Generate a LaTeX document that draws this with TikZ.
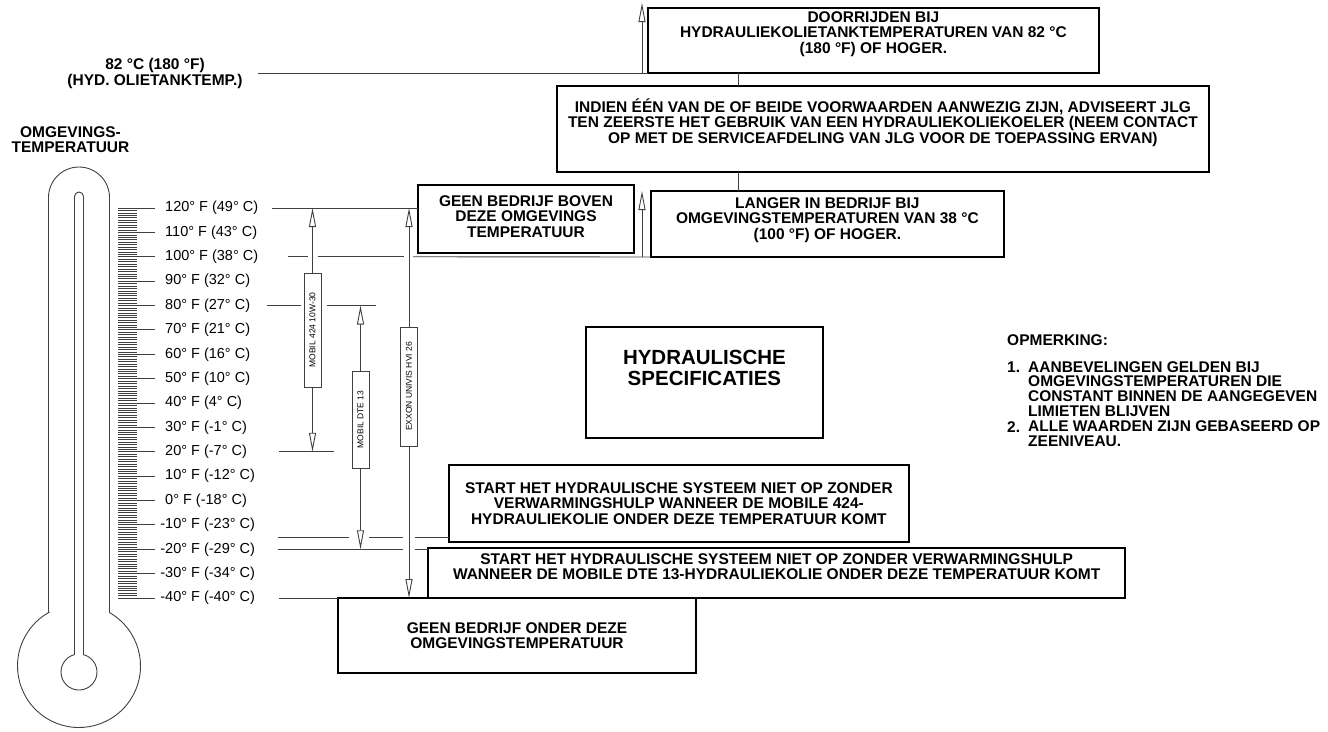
\documentclass[tikz,border=0pt]{standalone}
\usepackage{fontspec}
\setmainfont{Liberation Sans}
\usepackage{tikz}
\usetikzlibrary{calc,arrows.meta}

\definecolor{leadgray}{gray}{0.25}
\newcommand{\lift}[1]{\rule[-#1]{0pt}{#1}}

\begin{document}
\begin{tikzpicture}[
    x=1pt, y=-1pt,
    boxnote/.style={draw, line width=1.8pt, align=center, inner ysep=0pt,
                outer sep=0pt, anchor=north west,
                font=\bfseries\fontsize{15.5}{15.3}\selectfont},
    oilbar/.style={draw=leadgray, line width=0.9pt, rotate=90,
                minimum height=17pt, inner sep=0pt, outer sep=0pt,
                font=\fontsize{8.5}{9}\selectfont},
    hdr/.style={align=center, inner sep=0pt,
                font=\bfseries\fontsize{15.5}{16}\selectfont},
    notetxt/.style={anchor=west, align=left, inner sep=0pt,
                font=\bfseries\fontsize{15.5}{14.8}\selectfont},
    scalelbl/.style={anchor=west, inner sep=0pt,
                font=\fontsize{14.5}{16}\selectfont},
    lead/.style={draw=leadgray, line width=0.9pt},
    up/.style={lead, -{Triangle[open, length=19pt, width=7pt]}},
    tick/.style={draw=leadgray, line width=0.55pt},
    glass/.style={draw=leadgray, line width=0.9pt}
]
\useasboundingbox (0,0) rectangle (1328,731);

% thermometer
\draw[glass] (48.5,612.6) -- (48.5,197.5) arc[start angle=180, end angle=0, radius=30.5pt]
    -- (109.5,612.6) arc[start angle=60.27, end angle=-240.27, radius=61.5pt] -- cycle;
\draw[glass] (83.5,654.6) -- (83.5,196.5) arc[start angle=0, end angle=180, radius=4.5pt]
    -- (74.5,654.6) arc[start angle=104.48, end angle=435.52, radius=18pt] -- cycle;

\foreach \k in {0,...,15} {
    \foreach \j in {1,...,9}
        \draw[tick] (118,{208+24.375*\k+2.4375*\j}) -- (137,{208+24.375*\k+2.4375*\j});
}
\foreach \lbl [count=\i from 0] in {120° F (49° C), 110° F (43° C), 100° F (38° C),
        90° F (32° C), 80° F (27° C), 70° F (21° C), 60° F (16° C), 50° F (10° C),
        40° F (4° C), 30° F (-1° C), 20° F (-7° C), 10° F (-12° C), 0° F (-18° C),
        \llap{-}10° F (-23° C), \llap{-}20° F (-29° C), \llap{-}30° F (-34° C),
        \llap{-}40° F (-40° C)} {
    \draw[tick, line width=0.8pt] (118,{208+24.375*\i}) -- (155,{208+24.375*\i});
    \node[scalelbl] (deg\i) at (165,{208+24.375*\i}) {\lbl};
}

\node[hdr] (tanktemp) at (155,73) {82 °C (180 °F)\\(HYD. OLIETANKTEMP.)};
\node[hdr, font=\bfseries\fontsize{15.5}{15.8}\selectfont] (ambient) at (70.5,139.6)
    {OMGEVINGS-\\TEMPERATUUR};

% boxes
\node[boxnote, inner xsep=32pt, minimum height=65pt] (doorrijden) at (648,8)
    {DOORRIJDEN BIJ\\HYDRAULIEKOLIETANKTEMPERATUREN VAN 82 °C\\(180 °F) OF HOGER.\lift{16pt}};
\node[boxnote, inner xsep=11pt, minimum height=86pt] (indien) at (557,86)
    {INDIEN ÉÉN VAN DE OF BEIDE VOORWAARDEN AANWEZIG ZIJN, ADVISEERT JLG\\
     TEN ZEERSTE HET GEBRUIK VAN EEN HYDRAULIEKOLIEKOELER (NEEM CONTACT\\
     OP MET DE SERVICEAFDELING VAN JLG VOOR DE TOEPASSING ERVAN)\lift{16pt}};
\node[boxnote, inner xsep=25pt, minimum height=66pt] (langer) at (651,191)
    {LANGER IN BEDRIJF BIJ\\OMGEVINGSTEMPERATUREN VAN 38 °C\\(100 °F) OF HOGER.\lift{11pt}};
\node[boxnote, inner xsep=21pt, minimum height=68pt] (boven) at (418,185)
    {GEEN BEDRIJF BOVEN\\DEZE OMGEVINGS\\TEMPERATUUR\lift{5pt}};
\node[boxnote, inner xsep=37pt, minimum height=111pt,
      font=\bfseries\fontsize{20.5}{20.6}\selectfont] (spec) at (586,327)
    {HYDRAULISCHE\\SPECIFICATIES\lift{29pt}};
\node[boxnote, inner xsep=16pt, minimum height=77pt] (start1) at (449,465)
    {START HET HYDRAULISCHE SYSTEEM NIET OP ZONDER\\VERWARMINGSHULP WANNEER DE MOBILE 424-\\
     HYDRAULIEKOLIE ONDER DEZE TEMPERATUUR KOMT};
\node[boxnote, inner xsep=25pt, minimum height=50pt] (start2) at (428,548)
    {START HET HYDRAULISCHE SYSTEEM NIET OP ZONDER VERWARMINGSHULP\\
     WANNEER DE MOBILE DTE 13-HYDRAULIEKOLIE ONDER DEZE TEMPERATUUR KOMT\lift{13pt}};
\node[boxnote, minimum width=358pt, minimum height=75pt] (onder) at (338,598)
    {GEEN BEDRIJF ONDER DEZE\\OMGEVINGSTEMPERATUUR};

% oil bars
\node[oilbar, minimum width=114pt] (m424) at (312.5,330) {MOBIL 424 10W-30};
\node[oilbar, minimum width=97pt] (dte13) at (360.5,419.5) {MOBIL DTE 13};
\node[oilbar, minimum width=119pt] (exxon) at (409,386.5) {EXXON UNIVIS HVI 26};

% level lines
\coordinate (l82) at (258,73);
\coordinate (l120) at (272,208);
\coordinate (l100) at (288,256.75);
\coordinate (l80) at (267,305.5);
\coordinate (l20) at (279,451.75);
\coordinate (lm15) at (278,537);
\coordinate (lm20) at (278,549.25);
\coordinate (lm40) at (279,598);
\coordinate (tank) at (642,73);
\coordinate (tanktop) at (642,3);
\coordinate (link) at (738,0);

\draw[lead] (l82) -- (doorrijden.south west);
\draw[lead] (l120) -- (boven.west |- l120);
\draw[lead] (l100) -- ($(m424 |- l100)+(-5,0)$);
\draw[lead] ($(m424 |- l100)+(5,0)$) -- ($(exxon |- l100)+(-5,0)$);
\draw[lead] ($(exxon |- l100)+(4,0)$) -- (langer.south west);
\draw[lead] (l80) -- ($(m424 |- l80)+(-12,0)$);
\draw[lead] ($(m424 |- l80)+(14,0)$) -- ($(dte13 |- l80)+(15,0)$);
\draw[lead] (l20) -- ($(m424 |- l20)+(21,0)$);
\draw[lead] (lm15) -- ($(dte13 |- lm15)+(-12,0)$);
\draw[lead] ($(dte13 |- lm15)+(8,0)$) -- ($(exxon |- lm15)+(-6,0)$);
\draw[lead] ($(exxon |- lm15)+(6,0)$) -- (start1.west |- lm15);
\draw[lead] (lm20) -- ($(exxon |- lm20)+(-6,0)$);
\draw[lead] ($(exxon |- lm20)+(6,0)$) -- (start2.west |- lm20);
\draw[lead] (lm40) -- (onder.north west);

\draw[lead] (doorrijden.south -| link) -- (indien.north -| link);
\draw[lead] (indien.south -| link) -- (langer.north -| link);
\draw[up] (tank) -- (tanktop);
\draw[up] (l100 -| tank) -- (langer.north -| tank);

\draw[up] (m424.east) -- (m424.east |- l120);
\draw[up] (m424.west) -- (m424.west |- l20);
\draw[up] (dte13.east) -- (dte13.east |- l80);
\draw[up] (dte13.west) -- (dte13.west |- lm20);
\draw[up] (exxon.east) -- (exxon.east |- l120);
\draw[up] (exxon.west) -- (exxon.west |- lm40);

% note
\node[notetxt] (opm) at (1007,340) {OPMERKING:};
\node[notetxt] (num1) at (1007,367) {1.};
\node[notetxt] (item1) at (1028,389) {AANBEVELINGEN GELDEN BIJ\\OMGEVINGSTEMPERATUREN DIE\\
    CONSTANT BINNEN DE AANGEGEVEN\\LIMIETEN BLIJVEN};
\node[notetxt] (num2) at (1007,427) {2.};
\node[notetxt] (item2) at (1028,434) {ALLE WAARDEN ZIJN GEBASEERD OP\\ZEENIVEAU.};
\end{tikzpicture}
\end{document}
